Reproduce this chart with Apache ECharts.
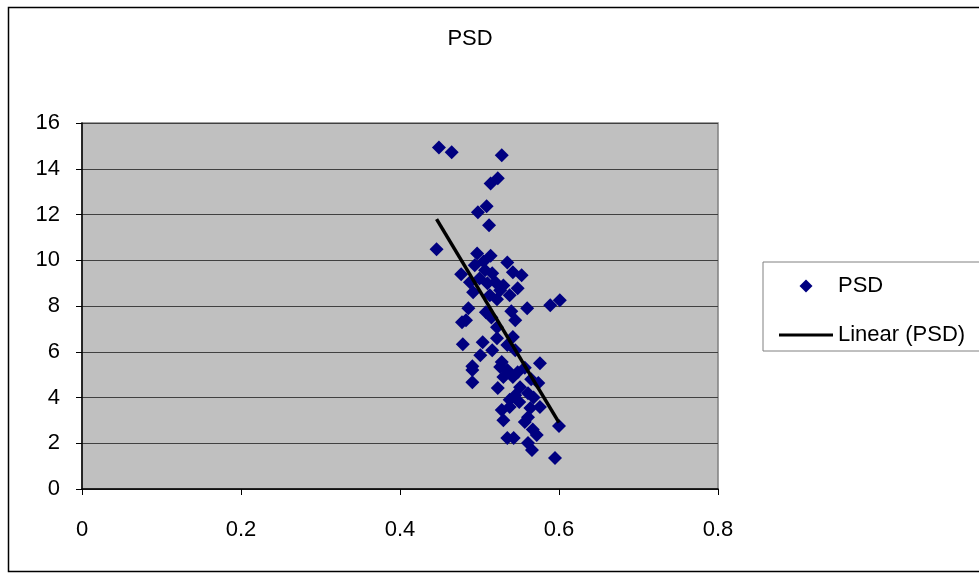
<!DOCTYPE html>
<html>
<head>
<meta charset="utf-8">
<script src="https://cdn.jsdelivr.net/npm/echarts@6/dist/echarts.min.js"></script>
<style>
  html, body { margin: 0; padding: 0; background: #fff; }
  #chart { width: 979px; height: 575px; }
</style>
</head>
<body>
<div id="chart"></div>
<script>
// PSD samples: [x, y]
var psdPoints = [
  [0.449, 14.93], [0.465, 14.72], [0.528, 14.59], [0.523, 13.58], [0.514, 13.36],
  [0.509, 12.36], [0.498, 12.10], [0.512, 11.53], [0.446, 10.48],
  [0.497, 10.3], [0.514, 10.2], [0.535, 9.9], [0.494, 9.78], [0.505, 9.95],
  [0.477, 9.39], [0.507, 9.56], [0.516, 9.43], [0.542, 9.48], [0.553, 9.34],
  [0.520, 9.04], [0.488, 9.04], [0.500, 9.2], [0.492, 8.6], [0.526, 8.69],
  [0.538, 8.47], [0.548, 8.78], [0.513, 8.47], [0.530, 8.9], [0.522, 8.3], [0.510, 9.0],
  [0.589, 8.03], [0.601, 8.25], [0.560, 7.9], [0.486, 7.9], [0.540, 7.77],
  [0.508, 7.73], [0.545, 7.38], [0.483, 7.38], [0.478, 7.29], [0.522, 7.07], [0.515, 7.5],
  [0.479, 6.33], [0.504, 6.42], [0.522, 6.59], [0.542, 6.64], [0.516, 6.07],
  [0.501, 5.85], [0.545, 6.07], [0.535, 6.3],
  [0.491, 5.37], [0.528, 5.55], [0.576, 5.5], [0.491, 5.2], [0.491, 4.67],
  [0.526, 5.33], [0.542, 4.9], [0.530, 4.9], [0.535, 5.2], [0.548, 5.1], [0.557, 5.3],
  [0.523, 4.41], [0.551, 4.45], [0.574, 4.63], [0.561, 4.19], [0.545, 4.1],
  [0.565, 4.8], [0.538, 3.9],
  [0.538, 3.58], [0.528, 3.45], [0.564, 3.54], [0.576, 3.58], [0.530, 3.01],
  [0.557, 2.93], [0.561, 3.14], [0.550, 3.8], [0.568, 4.0],
  [0.572, 2.36], [0.535, 2.23], [0.543, 2.23], [0.561, 2.01], [0.566, 1.7],
  [0.595, 1.35], [0.600, 2.75], [0.567, 2.6]
];
// linear trend, ends
var trendX = [0.446, 0.600];
var trendY = [11.8, 2.9];

var xTicks = [0, 0.2, 0.4, 0.6, 0.8];
var yTicks = [0, 2, 4, 6, 8, 10, 12, 14, 16];

var font = 'Liberation Sans, Arial, sans-serif';
var fontSize = 22;

var chart = echarts.init(document.getElementById('chart'));
var option = {
  animation: false,
  title: {
    text: 'PSD',
    left: 465,
    top: 23,
    textAlign: 'center',
    textStyle: { fontFamily: font, fontSize: fontSize, fontWeight: 'normal', color: '#000' }
  },
  graphic: [
    {
      type: 'rect',
      shape: { x: 8.5, y: 7.5, width: 980, height: 564 },
      style: { fill: 'none', stroke: '#000', lineWidth: 1.5 },
      silent: true,
      z: -1
    }
  ],
  legend: {
    orient: 'vertical',
    left: 763,
    top: 262,
    padding: [13, 30, 5, 16],
    itemWidth: 54,
    itemHeight: 13,
    itemGap: 27,
    symbolKeepAspect: true,
    backgroundColor: '#fff',
    borderColor: '#808080',
    borderWidth: 1,
    textStyle: { fontFamily: font, fontSize: fontSize, color: '#000' },
    data: [
      { name: 'PSD', icon: 'path://M0,-1L1,0L0,1L-1,0Z' },
      { name: 'Linear (PSD)', icon: 'path://M0,0L18,0L18,1L0,1Z' }
    ]
  },
  grid: {
    left: 82,
    top: 123,
    right: 261,
    bottom: 86,
    show: true,
    backgroundColor: '#C0C0C0',
    borderColor: '#808080',
    borderWidth: 1.5
  },
  xAxis: {
    type: 'value',
    min: xTicks[0],
    max: xTicks[xTicks.length - 1],
    interval: 0.2,
    axisLine: { show: true, lineStyle: { color: '#000', width: 1.5 } },
    axisTick: { show: true, length: 6, lineStyle: { color: '#000' } },
    splitLine: { show: false },
    axisLabel: {
      margin: 30,
      fontFamily: font,
      fontSize: fontSize,
      color: '#000',
      formatter: function (v) { return String(Math.round(v * 10) / 10); }
    }
  },
  yAxis: {
    type: 'value',
    min: yTicks[0],
    max: yTicks[yTicks.length - 1],
    interval: 2,
    axisLine: { show: true, lineStyle: { color: '#000', width: 1.5 } },
    axisTick: { show: true, length: 6, lineStyle: { color: '#000' } },
    splitLine: { show: true, lineStyle: { color: '#404040', width: 1 } },
    axisLabel: { margin: 22, fontFamily: font, fontSize: fontSize, color: '#000' }
  },
  series: [
    {
      name: 'PSD',
      type: 'scatter',
      symbol: 'diamond',
      symbolSize: 14,
      itemStyle: { color: '#000080', opacity: 1 },
      data: psdPoints,
      z: 2
    },
    {
      name: 'Linear (PSD)',
      type: 'line',
      symbol: 'none',
      lineStyle: { color: '#000', width: 3.5 },
      itemStyle: { color: '#000' },
      data: trendX.map(function (x, i) { return [x, trendY[i]]; }),
      z: 3
    }
  ]
};
chart.setOption(option);
</script>
</body>
</html>
